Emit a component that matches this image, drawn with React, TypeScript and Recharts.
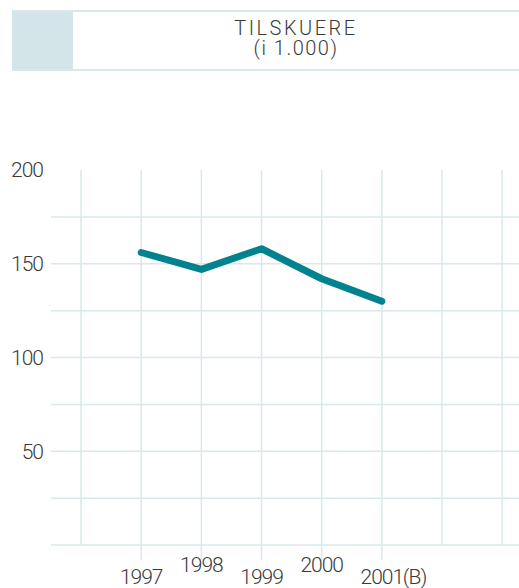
import { CartesianGrid, Line, LineChart, XAxis, YAxis } from "recharts";

const years = [1997, 1998, 1999, 2000, 2001];
const yearLabels = ["1997", "1998", "1999", "2000", "2001(B)"];
const spectators = [156, 147, 158, 142, 130];
const gridYears = [1996, 1997, 1998, 1999, 2000, 2001, 2002, 2003];
const yTicks = [50, 100, 150, 200];
const gridValues = [0, 25, 50, 75, 100, 125, 150, 175];

const data = years.map((year, i) => ({ year, value: spectators[i] }));

const FONT = "Roboto, 'Open Sans', sans-serif";
const GRID = "#d9e8eb";
const TEXT = "#3a3a3a";

function YearTick(props: any) {
  const { x, y, payload } = props;
  const i = years.indexOf(payload.value);
  if (i < 0) return null;
  const label = yearLabels[i];
  const year = label.slice(0, 4);
  const suffix = label.slice(4);
  const baseline = i % 2 === 1 ? 27 : 39;
  const textStyle = { fontSize: 21, fill: TEXT, fontFamily: FONT, fontWeight: 300, letterSpacing: -1 };
  return (
    <g>
      <line x1={x} x2={x} y1={y} y2={y + 15} stroke={GRID} strokeWidth={1.5} />
      <text x={x} y={y + baseline} textAnchor="middle" style={textStyle}>
        {year}
      </text>
      {suffix && (
        <text x={x + 21} y={y + baseline} textAnchor="start" style={textStyle}>
          {suffix}
        </text>
      )}
    </g>
  );
}

export default function App() {
  return (
    <div style={{ position: "absolute", left: 0, top: 0, width: 519, height: 588, background: "#fff", overflow: "hidden" }}>
      <div
        style={{
          position: "absolute",
          left: 12,
          top: 10,
          width: 507,
          height: 57,
          borderTop: `2px solid ${GRID}`,
          borderBottom: `2px solid ${GRID}`,
        }}
      >
        <div style={{ position: "absolute", left: 0, top: 0, width: 61, height: 57, background: "#d3e5e8" }} />
        <div
          style={{
            position: "absolute",
            left: 61,
            right: 0,
            top: 6,
            textAlign: "center",
            fontFamily: FONT,
            fontWeight: 300,
            fontSize: 20,
            lineHeight: "20px",
            letterSpacing: 2.5,
            color: TEXT,
          }}
        >
          <div>TILSKUERE</div>
          <div style={{ letterSpacing: 1.5 }}>(i 1.000)</div>
        </div>
      </div>

      <div style={{ position: "absolute", left: 0, top: 0 }}>
        <LineChart width={519} height={588} data={data} margin={{ top: 170, right: 0, bottom: 0, left: 0 }}>
          <CartesianGrid
            stroke={GRID}
            strokeWidth={1.5}
            horizontalValues={gridValues}
            verticalValues={gridYears}
          />
          <XAxis
            dataKey="year"
            type="number"
            domain={[1995.5, 2003.28]}
            ticks={gridYears}
            height={43}
            axisLine={false}
            tickLine={false}
            tickSize={0}
            tickMargin={0}
            tick={<YearTick />}
            interval={0}
          />
          <YAxis
            type="number"
            domain={[0, 200]}
            ticks={yTicks}
            width={51}
            axisLine={false}
            tickLine={false}
            tickSize={0}
            tickMargin={8}
            tick={{ fontSize: 21, fill: TEXT, fontFamily: FONT, fontWeight: 300, letterSpacing: -1 }}
          />
          <Line
            dataKey="value"
            type="linear"
            stroke="#00838f"
            strokeWidth={7}
            strokeLinecap="round"
            strokeLinejoin="round"
            dot={false}
            activeDot={false}
            isAnimationActive={false}
          />
        </LineChart>
      </div>
    </div>
  );
}
